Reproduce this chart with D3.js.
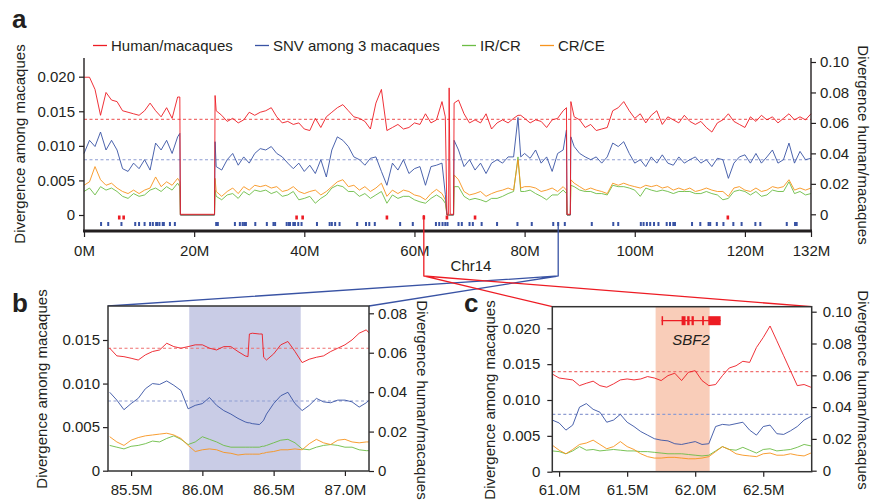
<!DOCTYPE html>
<html>
<head>
<meta charset="utf-8">
<script src="https://d3js.org/d3.v7.min.js"></script>
<title>Chr14 divergence</title>
<style>
body { margin: 0; background: #fff; }
svg text { font-family: "Liberation Sans", Arial, Helvetica, sans-serif; fill: #231f20; }
.axis text { font-size: 15px; }
.axis line { stroke: #231f20; stroke-width: 1.2; }
.series { fill: none; stroke-width: 1; stroke-linejoin: round; }
.mean { stroke-width: 1.1; stroke-dasharray: 3,2.5; }
.letter { font-size: 26px; font-weight: bold; }
.title { font-size: 15px; }
</style>
</head>
<body>
<div id="chart"></div>
<script>
// ---- panel a : whole Chr14, positions in Mb ----
var posA = [0,1,2,3,4,5,6,7,8,9,10,11,12,13,14,15,16,17,17.4,17.5,23.7,23.8,
  24,25,26,27,28,29,30,31,32,33,34,35,36,37,38,39,40,41,42,43,44,45,46,47,48,49,50,
  51,52,53,54,55,56,57,58,59,60,61,62,63,64,65,65.6,65.9,66.2,66.3,66.5,67.1,67.2,
  68,69,70,71,72,73,74,75,76,77,78,78.8,79.3,80,81,82,83,84,85,86,87,87.6,87.7,88.3,88.4,
  89,90,91,92,93,94,95,96,97,98,99,100,101,102,103,104,105,106,107,108,109,110,
  111,112,113,114,115,116,117,118,119,120,121,122,123,124,125,126,127,128,129,130,131,132];

// human/macaques (right axis)
var humA = [.090,.090,.082,.065,.080,.075,.074,.068,.067,.066,.065,.068,.073,.068,.064,.070,.063,.077,
  .077,0,0,.078,
  .068,.065,.061,.063,.060,.062,.067,.065,.067,.068,.070,.064,.060,.061,.059,.060,.056,.055,.063,.057,.064,
  .067,.070,.072,.068,.064,.063,.061,.056,.073,.082,.055,.057,.059,.056,.057,.060,.059,.066,.060,.062,.074,
  .064,0,0,.083,0,0,.073,
  .075,.066,.060,.062,.060,.066,.056,.060,.062,.060,.063,
  .065,.065,
  .063,.060,.062,.061,.057,.062,.063,.068,
  .070,0,0,.074,
  .064,.062,.057,.059,.055,.056,.057,.068,.070,.074,.068,.063,.066,.060,.065,.068,.059,.064,.062,.060,.065,.061,
  .059,.061,.057,.054,.060,.062,.066,.061,.059,.057,.064,.061,.065,.062,.064,.060,.063,.066,.062,.064,.062,.066];

// SNV among 3 macaques (left axis)
var snvA = [.0089,.0108,.0099,.0120,.0094,.0108,.0094,.0067,.0063,.0075,.0067,.0080,.0065,.0104,.0094,.0108,.0089,.0113,
  .0118,0,0,.0106,
  .0070,.0065,.0080,.0089,.0072,.0084,.0075,.0089,.0096,.0094,.0099,.0089,.0084,.0075,.0067,.0075,.0063,.0072,.0060,.0080,.0055,
  .0094,.0113,.0108,.0099,.0084,.0080,.0072,.0082,.0084,.0063,.0043,.0075,.0065,.0080,.0060,.0067,.0070,.0043,.0070,.0072,.0075,
  .0030,0,0,0,0,0,.0108,
  .0094,.0070,.0080,.0065,.0075,.0060,.0075,.0080,.0075,.0084,.0084,
  .0141,.0084,
  .0089,.0082,.0094,.0075,.0084,.0063,.0089,.0094,
  .0123,0,0,.0113,
  .0099,.0089,.0084,.0080,.0084,.0075,.0084,.0104,.0099,.0106,.0089,.0075,.0080,.0070,.0084,.0075,.0087,.0075,.0072,.0084,.0075,.0080,
  .0084,.0075,.0080,.0070,.0082,.0080,.0053,.0075,.0084,.0087,.0075,.0089,.0075,.0084,.0094,.0075,.0080,.0104,.0075,.0092,.0080,.0082];

// CR/CE
var ceA = [.0043,.0048,.0070,.0051,.0043,.0046,.0039,.0034,.0031,.0036,.0031,.0036,.0039,.0055,.0041,.0048,.0043,.0053,
  .0048,0,0,.0053,
  .0034,.0027,.0034,.0039,.0031,.0041,.0036,.0043,.0041,.0043,.0039,.0041,.0034,.0036,.0041,.0034,.0031,.0034,.0036,.0029,.0034,
  .0041,.0048,.0051,.0041,.0043,.0036,.0041,.0034,.0039,.0046,.0027,.0036,.0031,.0036,.0034,.0029,.0027,.0022,.0031,.0037,.0031,
  .0022,0,0,0,0,0,.0058,
  .0051,.0034,.0029,.0031,.0034,.0027,.0031,.0034,.0036,.0039,.0036,
  .0080,.0039,
  .0041,.0041,.0039,.0034,.0036,.0039,.0034,.0041,
  .0036,0,0,.0051,
  .0046,.0041,.0036,.0039,.0036,.0034,.0031,.0046,.0043,.0046,.0043,.0041,.0039,.0043,.0041,.0043,.0039,.0041,.0036,.0039,.0036,.0039,
  .0034,.0036,.0039,.0036,.0034,.0034,.0027,.0039,.0041,.0036,.0034,.0039,.0034,.0036,.0041,.0039,.0041,.0051,.0036,.0039,.0036,.0039];

// IR/CR
var irA = [.0034,.0039,.0029,.0041,.0036,.0039,.0034,.0027,.0024,.0031,.0027,.0029,.0036,.0039,.0034,.0041,.0036,.0046,
  .0041,0,0,.0036,
  .0027,.0022,.0029,.0031,.0024,.0034,.0029,.0036,.0034,.0036,.0031,.0034,.0027,.0029,.0034,.0022,.0024,.0027,.0017,.0024,.0029,
  .0039,.0043,.0041,.0034,.0034,.0027,.0031,.0024,.0029,.0034,.0017,.0029,.0024,.0027,.0027,.0022,.0019,.0017,.0024,.0029,.0024,
  .0017,0,0,0,0,0,.0041,
  .0041,.0027,.0022,.0024,.0022,.0019,.0024,.0024,.0027,.0031,.0034,
  .0084,.0034,
  .0034,.0036,.0031,.0027,.0022,.0029,.0029,.0036,
  .0031,0,0,.0043,
  .0041,.0036,.0034,.0034,.0031,.0031,.0029,.0043,.0041,.0041,.0039,.0036,.0027,.0039,.0036,.0034,.0036,.0034,.0031,.0034,.0034,.0034,
  .0031,.0031,.0034,.0031,.0029,.0022,.0024,.0034,.0036,.0034,.0029,.0034,.0027,.0029,.0036,.0034,.0034,.0048,.0031,.0034,.0029,.0031];

var redMarks = [6.4, 7.2, 38.6, 39.7, 55.0, 61.7, 65.9, 71.0, 116.9];
var blueMarks = [3.1,4.4,6.8,9.3,10.0,11.0,12.0,12.5,13.1,13.3,13.7,14.3,14.5,15.6,16.5,24.0,24.3,27.4,28.3,28.8,
  29.1,29.4,31.1,33.2,34.4,34.7,36.8,37.2,37.4,38.0,38.3,38.9,39.5,42.3,44.6,45.0,45.6,46.4,49.6,51.2,51.8,52.8,
  57.4,59.7,63.9,64.5,65.1,65.6,66.0,68.0,68.6,70.0,70.6,72.2,75.0,78.7,81.3,85.2,86.1,87.3,92.2,96.1,97.0,
  101.1,101.6,102.2,102.8,103.5,104.3,105.8,106.4,107.0,107.3,110.4,111.9,113.4,113.7,114.9,116.1,117.9,119.4,
  121.9,122.8,127.6,129.1,129.4];

var meanHuman = 0.0623, meanSnv = 0.0080;
var zoomB = 86.1, zoomC = 61.7;

// ---- panel b ----
var posB = [85.35,85.40,85.45,85.50,85.55,85.60,85.65,85.70,85.75,85.80,85.85,85.90,85.95,86.00,86.05,86.10,86.15,86.20,86.25,86.30,
  86.32,86.33,86.35,86.40,86.42,86.43,86.45,86.50,86.55,86.60,86.65,86.70,86.75,86.80,86.85,86.90,86.95,87.00,87.05,87.10,87.15,87.17];
var humB = [.0623,.0584,.0580,.0572,.0563,.0589,.0606,.0614,.0648,.0631,.0623,.0631,.0640,.0640,.0623,.0614,.0631,.0631,.0606,.0584,
  .0580,.0695,.0699,.0695,.0695,.0577,.0563,.0594,.0640,.0657,.0606,.0550,.0567,.0577,.0584,.0606,.0623,.0640,.0665,.0699,.0716,.0699];
var snvB = [.0090,.0081,.0070,.0077,.0083,.0094,.0100,.0099,.0103,.0098,.0092,.0071,.0075,.0077,.0084,.0075,.0069,.0065,.0060,.0056,
  .0055,.0055,.0054,.0053,.0056,.0058,.0065,.0077,.0086,.0090,.0077,.0069,.0075,.0083,.0079,.0078,.0081,.0081,.0079,.0073,.0078,.0081];
var ceB = [.0039,.0033,.0029,.0035,.0038,.0040,.0041,.0042,.0043,.0041,.0037,.0029,.0022,.0024,.0025,.0024,.0021,.0020,.0018,.0019,
  .0019,.0019,.0019,.0019,.0020,.0020,.0021,.0022,.0024,.0024,.0025,.0024,.0031,.0036,.0032,.0030,.0035,.0036,.0033,.0032,.0033,.0033];
var irB = [.0029,.0027,.0025,.0028,.0029,.0031,.0034,.0033,.0037,.0040,.0036,.0030,.0033,.0039,.0036,.0033,.0029,.0027,.0027,.0027,
  .0027,.0027,.0027,.0027,.0028,.0028,.0029,.0032,.0035,.0036,.0032,.0025,.0024,.0027,.0029,.0030,.0029,.0027,.0027,.0024,.0023,.0023];
var shadeB = [85.908, 86.69];

// ---- panel c ----
var posC = [60.95,61.00,61.05,61.10,61.15,61.20,61.25,61.30,61.35,61.40,61.45,61.50,61.55,61.60,61.65,61.70,61.75,61.80,61.85,61.90,
  61.95,62.00,62.05,62.10,62.15,62.20,62.25,62.30,62.35,62.40,62.45,62.50,62.55,62.60,62.65,62.70,62.75,62.80,62.85];
var humC = [.0608,.0583,.0577,.0571,.0535,.0550,.0563,.0535,.0525,.0546,.0571,.0577,.0571,.0577,.0592,.0583,.0567,.0598,.0613,.0567,
  .0619,.0629,.0567,.0535,.0542,.0598,.0646,.0660,.0688,.0681,.0775,.0838,.0910,.0817,.0723,.0629,.0535,.0542,.0525];
var snvC = [.0072,.0068,.0058,.0065,.0090,.0095,.0087,.0083,.0069,.0072,.0080,.0069,.0063,.0056,.0051,.0046,.0044,.0043,.0039,.0038,
  .0040,.0042,.0038,.0039,.0063,.0066,.0065,.0067,.0069,.0058,.0051,.0063,.0065,.0053,.0052,.0057,.0063,.0072,.0077];
var ceC = [.0037,.0030,.0025,.0031,.0038,.0040,.0044,.0038,.0032,.0035,.0042,.0035,.0031,.0025,.0021,.0019,.0019,.0020,.0020,.0019,
  .0018,.0018,.0019,.0021,.0028,.0035,.0031,.0025,.0023,.0022,.0021,.0025,.0026,.0023,.0023,.0025,.0023,.0022,.0026];
var irC = [.0029,.0028,.0025,.0029,.0035,.0030,.0031,.0029,.0030,.0031,.0030,.0029,.0029,.0028,.0028,.0027,.0026,.0025,.0025,.0025,
  .0024,.0023,.0022,.0023,.0029,.0035,.0031,.0030,.0034,.0030,.0026,.0031,.0032,.0029,.0030,.0031,.0034,.0038,.0036];
var shadeC = [61.709, 62.106];
var geneSpan = [61.753, 62.187];
var geneExons = [[61.753,61.757],[61.900,61.929],[61.941,61.959],[61.973,61.990],[62.051,62.064],[62.096,62.187]];

var colRed = "#ed1c24", colBlue = "#3953a4", colGreen = "#6cbd45", colOrange = "#f7941d";
var colRedMean = "#f07070", colBlueMean = "#8f9dd2", ink = "#231f20";

var svg = d3.select("#chart").append("svg").attr("width", 872).attr("height", 500);

var fmtL = function (d) { return d === 0 ? "0" : d3.format(".3f")(d); };
var fmtR = function (d) { return d === 0 ? "0" : d3.format(".2f")(d); };

function seriesList(hum, snv, ir, ce) {
  return [
    { v: ir, c: colGreen, r: false },
    { v: ce, c: colOrange, r: false },
    { v: snv, c: colBlue, r: false },
    { v: hum, c: colRed, r: true }
  ];
}

function drawSeries(g, pos, list, x, yL, yR) {
  list.forEach(function (s) {
    var y = s.r ? yR : yL;
    var line = d3.line().x(function (d, i) { return x(pos[i]); }).y(function (d) { return y(d); });
    g.append("path").datum(s.v).attr("class", "series").attr("stroke", s.c)
      .attr("stroke-opacity", 0.9).attr("d", line);
  });
}

function drawMeans(g, x, yL, yR) {
  var d = x.domain();
  g.append("line").attr("class", "mean").attr("stroke", colRedMean)
    .attr("x1", x(d[0])).attr("x2", x(d[1])).attr("y1", yR(meanHuman)).attr("y2", yR(meanHuman));
  g.append("line").attr("class", "mean").attr("stroke", colBlueMean)
    .attr("x1", x(d[0])).attr("x2", x(d[1])).attr("y1", yL(meanSnv)).attr("y2", yL(meanSnv));
}

function vTitle(x, y, rot, txt) {
  svg.append("text").attr("class", "title").attr("transform", "translate(" + x + "," + y + ") rotate(" + rot + ")")
    .attr("text-anchor", "middle").attr("dy", "0.35em").text(txt);
}

function axisG(call, tx, ty) {
  var g = svg.append("g").attr("class", "axis").attr("transform", "translate(" + tx + "," + ty + ")").call(call);
  g.select(".domain").remove();
  return g;
}

// ================= panel a =================
var xA = d3.scaleLinear().domain([0, 132]).range([84, 811]);
var yAL = d3.scaleLinear().domain([0, 0.02]).range([215, 76.7]);
var yAR = d3.scaleLinear().domain([0, 0.10]).range([214.3, 62]);

var gA = svg.append("g");
drawMeans(gA, xA, yAL, yAR);
drawSeries(gA, posA, seriesList(humA, snvA, irA, ceA), xA, yAL, yAR);

gA.selectAll(".rmark").data(redMarks).enter().append("rect").attr("class", "rmark")
  .attr("x", function (d) { return xA(d) - 1.3; }).attr("y", 215.5).attr("width", 2.6).attr("height", 4).attr("fill", colRed);
gA.selectAll(".bmark").data(blueMarks).enter().append("rect").attr("class", "bmark")
  .attr("x", function (d) { return xA(d) - 1; }).attr("y", 222).attr("width", 2).attr("height", 4).attr("fill", colBlue);

axisG(d3.axisLeft(yAL).tickValues([0, .005, .01, .015, .02]).tickSize(5).tickPadding(4).tickFormat(fmtL), 84, 0);
axisG(d3.axisRight(yAR).tickValues([0, .02, .04, .06, .08, .10]).tickSize(5).tickPadding(4).tickFormat(fmtR), 811, 0);
axisG(d3.axisBottom(xA).tickValues([0, 20, 40, 60, 80, 100, 120, 132]).tickSize(6).tickPadding(8)
  .tickFormat(function (d) { return d + "M"; }), 0, 231);
svg.append("line").attr("x1", 84).attr("x2", 84).attr("y1", 58).attr("y2", 231).attr("stroke", ink).attr("stroke-width", 1.4);
svg.append("line").attr("x1", 811).attr("x2", 811).attr("y1", 58).attr("y2", 231).attr("stroke", ink).attr("stroke-width", 1.4);
svg.append("line").attr("x1", 83).attr("x2", 812).attr("y1", 231).attr("y2", 231).attr("stroke", ink).attr("stroke-width", 3.2);

svg.append("text").attr("class", "letter").attr("x", 12).attr("y", 28).text("a");
vTitle(20, 144, -90, "Divergence among macaques");
vTitle(863, 145, 90, "Divergence human/macaques");
svg.append("text").attr("class", "title").attr("x", 471).attr("y", 271).attr("text-anchor", "middle").text("Chr14");

// legend
var legend = [
  { t: "Human/macaques", c: colRed, x: 93 },
  { t: "SNV among 3 macaques", c: colBlue, x: 255 },
  { t: "IR/CR", c: colGreen, x: 462 },
  { t: "CR/CE", c: colOrange, x: 540 }
];
var lg = svg.selectAll(".lg").data(legend).enter().append("g").attr("class", "lg");
lg.append("line").attr("x1", function (d) { return d.x; }).attr("x2", function (d) { return d.x + 14; })
  .attr("y1", 45.5).attr("y2", 45.5).attr("stroke", function (d) { return d.c; }).attr("stroke-width", 1.3);
lg.append("text").attr("class", "title").attr("x", function (d) { return d.x + 18; }).attr("y", 51).text(function (d) { return d.t; });

// ================= panel b =================
var boxB = { x0: 108, x1: 369, y0: 306, y1: 471 };
var xB = d3.scaleLinear().domain([85.338, 87.169]).range([boxB.x0, boxB.x1]);
var yBL = d3.scaleLinear().domain([0, 0.015]).range([470.7, 340]);
var yBR = d3.scaleLinear().domain([0, 0.08]).range([471, 313.3]);

// ================= panel c =================
var boxC = { x0: 552.3, x1: 811.7, y0: 306.7, y1: 471.7 };
var xC = d3.scaleLinear().domain([60.95, 62.856]).range([boxC.x0, boxC.x1]);
var yCL = d3.scaleLinear().domain([0, 0.02]).range([471.7, 328.3]);
var yCR = d3.scaleLinear().domain([0, 0.10]).range([470.7, 311.7]);

// connectors
var conn = svg.append("g").attr("fill", "none").attr("stroke-width", 1.3);
var bx = xA(zoomB), cx = xA(zoomC);
conn.append("path").attr("stroke", colBlue)
  .attr("d", "M" + bx + ",222V276L" + boxB.x0 + "," + boxB.y0 + "M" + bx + ",276L" + boxB.x1 + "," + boxB.y0);
conn.append("path").attr("stroke", colRed)
  .attr("d", "M" + cx + ",215V276L" + boxC.x0 + "," + boxC.y0 + "M" + cx + ",276L" + boxC.x1 + "," + boxC.y0);

function drawPanel(box, x, yL, yR, shade, shadeCol, pos, list, id, xt, ltk, rtk, lpad, rpad) {
  svg.append("clipPath").attr("id", id).append("rect")
    .attr("x", box.x0).attr("y", box.y0).attr("width", box.x1 - box.x0).attr("height", box.y1 - box.y0);
  svg.append("rect").attr("x", box.x0).attr("y", box.y0).attr("width", box.x1 - box.x0).attr("height", box.y1 - box.y0)
    .attr("fill", "#fff");
  var g = svg.append("g").attr("clip-path", "url(#" + id + ")");
  g.append("rect").attr("x", x(shade[0])).attr("y", box.y0).attr("width", x(shade[1]) - x(shade[0]))
    .attr("height", box.y1 - box.y0).attr("fill", shadeCol);
  drawMeans(g, x, yL, yR);
  drawSeries(g, pos, list, x, yL, yR);
  axisG(d3.axisLeft(yL).tickValues(ltk).tickSize(5).tickPadding(lpad).tickFormat(fmtL), box.x0, 0);
  axisG(d3.axisRight(yR).tickValues(rtk).tickSize(5).tickPadding(rpad).tickFormat(fmtR), box.x1, 0);
  axisG(d3.axisBottom(x).tickValues(xt).tickSize(5).tickPadding(8)
    .tickFormat(function (d) { return d3.format(".1f")(d) + "M"; }), 0, box.y1);
  svg.append("rect").attr("x", box.x0).attr("y", box.y0).attr("width", box.x1 - box.x0).attr("height", box.y1 - box.y0)
    .attr("fill", "none").attr("stroke", "#333").attr("stroke-width", 1.5);
  return g;
}

drawPanel(boxB, xB, yBL, yBR, shadeB, "#c9cce6", posB, seriesList(humB, snvB, irB, ceB), "clipB",
  [85.5, 86.0, 86.5, 87.0], [0, .005, .01, .015], [0, .02, .04, .06, .08], 3, 4);
var gC = drawPanel(boxC, xC, yCL, yCR, shadeC, "#f9cdb9", posC, seriesList(humC, snvC, irC, ceC), "clipC",
  [61.0, 61.5, 62.0, 62.5], [0, .005, .01, .015, .02], [0, .02, .04, .06, .08, .10], 7, 6);

// SBF2 gene model
var geneY = 320.7;
gC.append("line").attr("x1", xC(geneSpan[0])).attr("x2", xC(geneSpan[1])).attr("y1", geneY).attr("y2", geneY)
  .attr("stroke", colRed).attr("stroke-width", 1.3);
gC.selectAll(".exon").data(geneExons).enter().append("rect").attr("class", "exon")
  .attr("x", function (d) { return xC(d[0]); }).attr("width", function (d) { return Math.max(1.5, xC(d[1]) - xC(d[0])); })
  .attr("y", geneY - 4.5).attr("height", 9).attr("fill", colRed);
svg.append("text").attr("class", "title").attr("x", xC((geneSpan[0] + geneSpan[1]) / 2)).attr("y", 345)
  .attr("text-anchor", "middle").attr("font-style", "italic").text("SBF2");

svg.append("text").attr("class", "letter").attr("x", 12).attr("y", 312).text("b");
svg.append("text").attr("class", "letter").attr("x", 464).attr("y", 312).text("c");
vTitle(42, 389, -90, "Divergence among macaques");
vTitle(422, 400, 90, "Divergence human/macaques");
vTitle(490, 400, -90, "Divergence among macaques");
vTitle(863, 390, 90, "Divergence human/macaques");
</script>
</body>
</html>
